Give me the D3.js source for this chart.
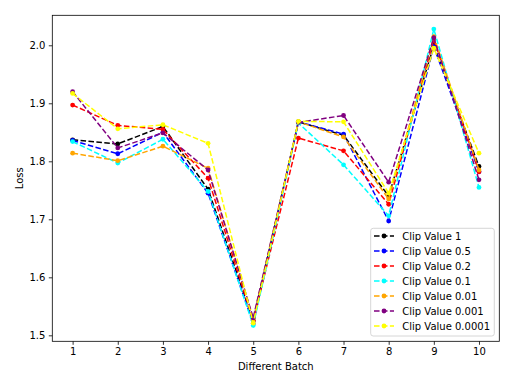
<!DOCTYPE html>
<html><head><meta charset="utf-8">
<script src="https://cdn.jsdelivr.net/npm/d3@7"></script>
<style>body{margin:0;background:#fff}svg{display:block}text{font-family:"DejaVu Sans",sans-serif}</style>
</head><body><svg id="c" width="510" height="381"></svg>
<script>
const batches = [1,2,3,4,5,6,7,8,9,10];
const seriesNames = ["Clip Value 1","Clip Value 0.5","Clip Value 0.2","Clip Value 0.1","Clip Value 0.01","Clip Value 0.001","Clip Value 0.0001"];
const seriesColors = ["black","blue","red","cyan","orange","purple","yellow"];
const clip1      = [1.837,1.830,1.860,1.752,1.525,1.868,1.845,1.740,2.000,1.791];
const clip05     = [1.836,1.813,1.850,1.745,1.520,1.868,1.847,1.697,1.998,1.782];
const clip02     = [1.897,1.862,1.855,1.771,1.525,1.840,1.818,1.726,2.010,1.782];
const clip01     = [1.834,1.797,1.838,1.748,1.517,1.866,1.794,1.706,2.028,1.755];
const clip001    = [1.814,1.801,1.826,1.788,1.528,1.868,1.842,1.735,2.015,1.785];
const clip0001   = [1.920,1.823,1.849,1.785,1.530,1.867,1.879,1.764,2.013,1.768];
const clip00001  = [1.917,1.856,1.863,1.831,1.521,1.869,1.868,1.745,1.995,1.814];
const allSeries = [clip1,clip05,clip02,clip01,clip001,clip0001,clip00001];
const yTicks = [1.5,1.6,1.7,1.8,1.9,2.0];

const svg = d3.select("#c");
const L=52.3,R=499.3,T=15.3,B=341.3;
const x = d3.scaleLinear().domain([0.55,10.45]).range([L,R]);
const y = d3.scaleLinear().domain([1.4897,2.0517]).range([B,T]);

const xAxis = svg.append("g").attr("transform",`translate(0,${B})`)
  .call(d3.axisBottom(x).tickValues(batches).tickFormat(d3.format("d")).tickSize(3.5).tickPadding(3.5));
const yAxis = svg.append("g").attr("transform",`translate(${L},0)`)
  .call(d3.axisLeft(y).tickValues(yTicks).tickFormat(d3.format(".1f")).tickSize(3.5).tickPadding(3.5));
[xAxis,yAxis].forEach(g=>{g.select(".domain").remove();g.selectAll("text").attr("font-size",10).attr("fill","#000").attr("font-family","DejaVu Sans");g.selectAll("line").attr("stroke","#000").attr("stroke-width",0.8);});

const line = d3.line().x((d,i)=>x(batches[i])).y(d=>y(d));
allSeries.forEach((s,k)=>{
  svg.append("path").datum(s).attr("d",line).attr("fill","none")
    .attr("stroke",seriesColors[k]).attr("stroke-width",1.5).attr("stroke-dasharray","5.55,2.4");
  svg.append("g").selectAll("circle").data(s).join("circle")
    .attr("cx",(d,i)=>x(batches[i])).attr("cy",d=>y(d)).attr("r",2.4).attr("fill",seriesColors[k]);
});

svg.append("rect").attr("x",L).attr("y",T).attr("width",R-L).attr("height",B-T)
  .attr("fill","none").attr("stroke","#000").attr("stroke-width",0.8);

svg.append("text").attr("x",(L+R)/2).attr("y",370).attr("text-anchor","middle").attr("font-size",10).text("Different Batch");
svg.append("text").attr("transform",`translate(23,${(T+B)/2}) rotate(-90)`).attr("text-anchor","middle").attr("font-size",10).text("Loss");

// legend
const lg = svg.append("g");
lg.append("rect").attr("x",370.7).attr("y",228.3).attr("width",123.6).attr("height",107.7).attr("rx",2.5)
  .attr("fill","white").attr("fill-opacity",0.8).attr("stroke","#ccc").attr("stroke-width",0.8);
seriesNames.forEach((n,k)=>{
  const yy = 236+k*15;
  lg.append("line").attr("x1",374).attr("x2",394).attr("y1",yy).attr("y2",yy)
    .attr("stroke",seriesColors[k]).attr("stroke-width",1.5).attr("stroke-dasharray","5.55,2.4");
  lg.append("circle").attr("cx",384).attr("cy",yy).attr("r",2.4).attr("fill",seriesColors[k]);
  lg.append("text").attr("x",402.3).attr("y",yy+3.6).attr("font-size",10).text(n);
});
</script></body></html>
